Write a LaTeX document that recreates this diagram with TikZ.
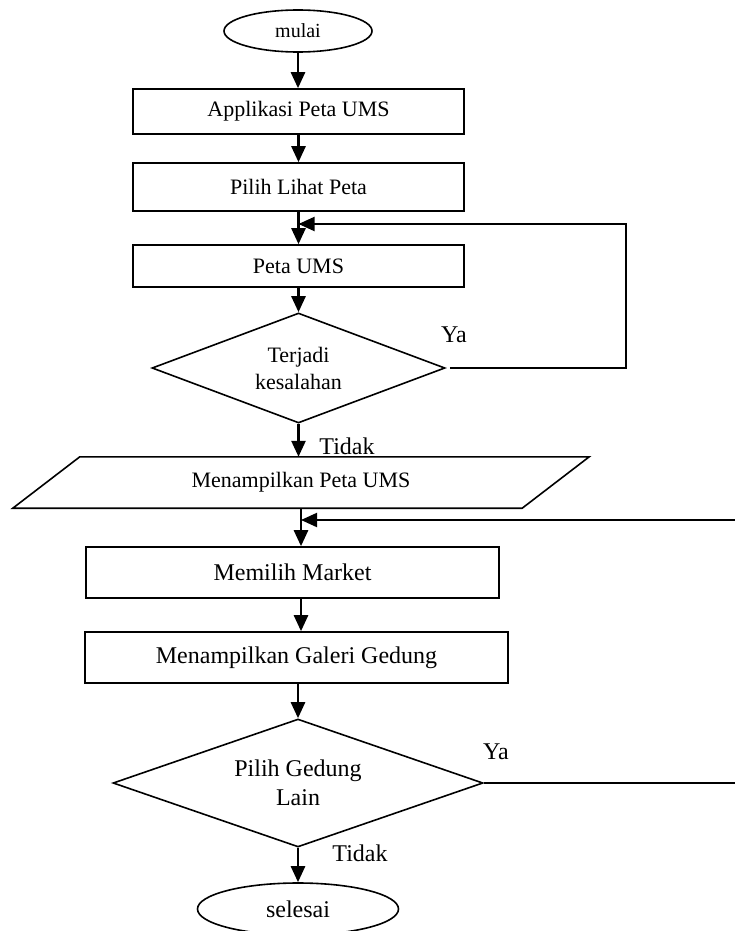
\documentclass[tikz,border=0pt]{standalone}
\usepackage{fontspec}
\setmainfont{Liberation Serif}
\usetikzlibrary{shapes.geometric,arrows.meta,calc}
\begin{document}
\begin{tikzpicture}[x=1pt,y=-1pt,
  fsmall/.style={font=\fontsize{22}{27}\selectfont},
  fbig/.style={font=\fontsize{24}{29}\selectfont},
  box/.style={draw,line width=1.6pt,inner sep=0pt,minimum width=331pt},
  term/.style={draw,ellipse,line width=1.6pt,inner sep=0pt},
  dec/.style={draw,diamond,line width=1.6pt,inner sep=0pt,align=center},
  arr/.style={line width=2.6pt,-{Triangle[length=16pt,width=14pt]}},
  fb/.style={line width=2pt,-{Triangle[length=16pt,width=14pt]}},
  plain/.style={line width=2pt},
  lbl/.style={fbig,inner sep=0pt}]
\useasboundingbox (0,0) rectangle (735,931);
\fill[white] (0,0) rectangle (735,931);

\node[term,fsmall,font=\fontsize{20}{24}\selectfont,minimum width=148pt,minimum height=42pt] (mulai) at (298,31) {mulai};
\node[box,fsmall,minimum height=45pt] (app) at (298.5,111.5) {Applikasi Peta UMS};
\node[box,fsmall,minimum height=48pt] (pilih) at (298.5,187) {Pilih Lihat Peta};
\node[box,fsmall,minimum height=42pt] (peta) at (298.5,266) {Peta UMS};
\node[dec,fsmall,minimum width=293pt,minimum height=110pt,aspect=2.66] (err) at (298.5,368) {Terjadi\\kesalahan};
\node[fsmall,inner sep=0pt,minimum width=509pt,minimum height=51pt] (show) at (301,482.5) {Menampilkan Peta UMS};
\draw[line width=1.6pt,line join=miter]
  ($(show.south west)+(-33.5,0)$) -- ($(show.north west)+(33.5,0)$) --
  ($(show.north east)+(33.5,0)$) -- ($(show.south east)+(-33.5,0)$) -- cycle;
\node[box,fbig,minimum width=413pt,minimum height=51pt] (market) at (292.5,572.5) {Memilih Market};
\node[box,fbig,minimum width=423pt,minimum height=51pt] (galeri) at (296.5,657.5) {Menampilkan Galeri Gedung};
\node[dec,fbig,minimum width=370pt,minimum height=128pt,aspect=2.89] (lain) at (298,783) {Pilih Gedung\\Lain};
\node[term,fbig,minimum width=201pt,minimum height=52pt] (selesai) at (298,909) {selesai};

\draw[arr] (mulai.south) -- (mulai.south |- app.north);
\draw[arr] (app.south) -- (app.south |- pilih.north);
\draw[arr] (pilih.south) -- (pilih.south |- peta.north);
\draw[arr] (peta.south) -- (peta.south |- err.north);
\draw[arr] (err.south) -- (err.south |- show.north);
\draw[arr] (show.south) -- (show.south |- market.north);
\draw[arr] (show.south |- market.south) -- (show.south |- galeri.north);
\draw[arr] (lain.north |- galeri.south) -- (lain.north);
\draw[arr] (lain.south) -- (lain.south |- selesai.north);

\coordinate (r1) at (626,224);
\draw[fb] ([xshift=4pt]err.east) -| (r1) -- (r1 -| peta.north);
\coordinate (r2) at (735,520);
\draw[fb] (r2) -- (r2 -| show.south);
\coordinate (r3) at (735,783);
\draw[plain] (lain.east) -- (lain.east -| r3);

\node[lbl] (ya1) at (454,335) {Ya};
\node[lbl] (tidak1) at (347,446) {Tidak};
\node[lbl] (ya2) at (496,752) {Ya};
\node[lbl] (tidak2) at (360,853) {Tidak};
\end{tikzpicture}
\end{document}
